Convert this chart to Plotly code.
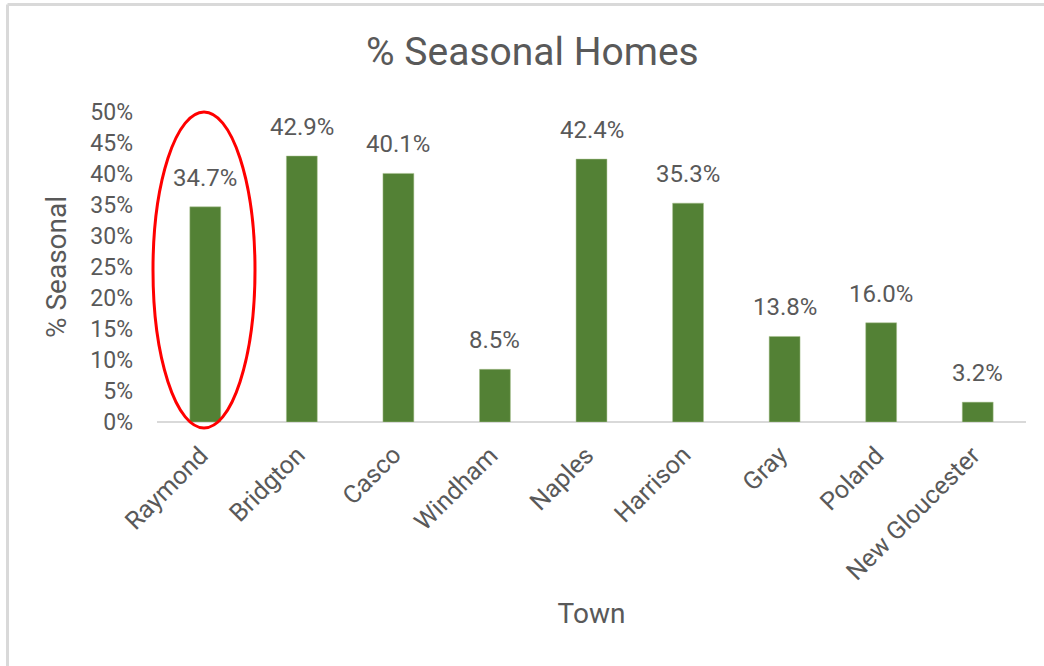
import plotly.graph_objects as go

towns = ["Raymond", "Bridgton", "Casco", "Windham", "Naples", "Harrison", "Gray", "Poland", "New Gloucester"]
seasonal_pct = [34.7, 42.9, 40.1, 8.5, 42.4, 35.3, 13.8, 16.0, 3.2]
y_ticks = [0, 5, 10, 15, 20, 25, 30, 35, 40, 45, 50]

W, H = 1044, 666
ML, MR, MT, MB = 157, 18, 112, 244
pw, ph = W - ML - MR, H - MT - MB

def px_x(p):
    return (p - ML) / pw

def px_y(p):
    return (H - MB - p) / ph

gray = "#595959"
fnt = "Roboto"

fig = go.Figure(go.Bar(
    x=towns,
    y=[v / 100 for v in seasonal_pct],
    marker=dict(color="#538135", line=dict(color="#a9c08f", width=0.5)),
    hoverinfo="x+y",
))

# data labels above each bar
for t, v in zip(towns, seasonal_pct):
    fig.add_annotation(x=t, y=v / 100, text=f"{v:.1f}%", showarrow=False,
                       yanchor="bottom", yshift=13,
                       font=dict(family=fnt, size=24, color=gray))

# rotated category labels (Excel-style placement)
for t in towns:
    fig.add_annotation(x=t, xref="x", y=0, yref="paper", text=t, showarrow=False,
                       textangle=-45, xanchor="right", yanchor="top",
                       xshift=11, yshift=-16,
                       font=dict(family=fnt, size=25, color=gray))

fig.update_layout(
    width=W, height=H,
    margin=dict(l=ML, r=MR, t=MT, b=MB, autoexpand=False),
    paper_bgcolor="white", plot_bgcolor="white",
    bargap=0.68,
    showlegend=False,
    title=dict(text="% Seasonal Homes", x=0.51, xanchor="center", xref="container",
               y=1 - 51 / H, yanchor="middle", yref="container",
               font=dict(family=fnt, size=39, color=gray)),
    xaxis=dict(
        range=[-0.5, len(towns) - 0.5],
        showticklabels=False,
        showline=False,
        showgrid=False, zeroline=False, ticks="",
        title=dict(text="Town", font=dict(family=fnt, size=28, color=gray), standoff=181),
        automargin=False,
    ),
    yaxis=dict(
        range=[0, 0.5],
        tickvals=[t / 100 for t in y_ticks],
        ticktext=[f"{t}%" for t in y_ticks],
        tickfont=dict(family=fnt, size=23, color=gray),
        ticklabelstandoff=23,
        showgrid=False, zeroline=False, showline=False, ticks="",
        title=dict(text="% Seasonal", font=dict(family=fnt, size=28, color=gray), standoff=15),
    ),
    font=dict(family=fnt),
)

# category axis baseline
fig.add_shape(type="line", xref="paper", yref="paper", x0=0, x1=1, y0=0, y1=0,
              line=dict(color="#d9d9d9", width=2), layer="below")

# red ellipse highlighting Raymond
fig.add_shape(type="circle", xref="paper", yref="paper",
              x0=px_x(153), x1=px_x(255), y0=px_y(428), y1=px_y(112),
              line=dict(color="#ff0000", width=3))

# frame lines (top and left) of the chart area
fig.add_shape(type="line", xref="paper", yref="paper",
              x0=px_x(7.5), x1=px_x(1050), y0=px_y(4.5), y1=px_y(4.5),
              line=dict(color="#d9d9d9", width=3))
fig.add_shape(type="line", xref="paper", yref="paper",
              x0=px_x(7.5), x1=px_x(7.5), y0=px_y(4.5), y1=px_y(670),
              line=dict(color="#d9d9d9", width=3))

fig.write_html("out.html", config={"displayModeBar": False},
               post_script="document.body.style.margin='0';")
